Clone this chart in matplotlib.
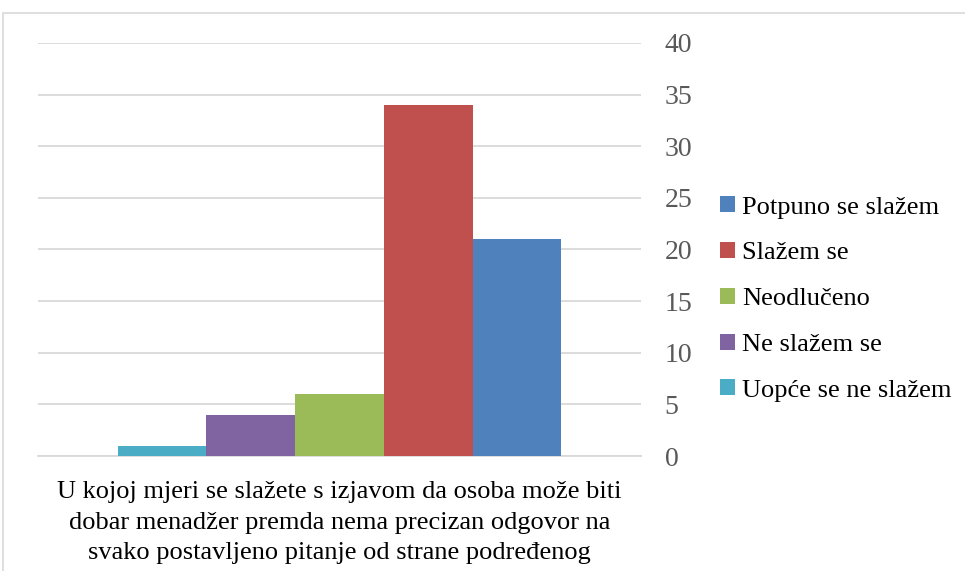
import matplotlib.pyplot as plt
from matplotlib.patches import Rectangle

plt.rcParams['font.family'] = ['Liberation Serif', 'DejaVu Serif']

category = 'U kojoj mjeri se slažete s izjavom da osoba može biti\ndobar menadžer premda nema precizan odgovor na\nsvako postavljeno pitanje od strane podređenog'
series = ['Uopće se ne slažem', 'Ne slažem se', 'Neodlučeno', 'Slažem se', 'Potpuno se slažem']
values = [1, 4, 6, 34, 21]
colors = ['#4bacc6', '#8064a2', '#9bbb59', '#c0504d', '#4f81bd']

fig = plt.figure(figsize=(9.65, 5.71), dpi=100)
fig.patches.append(Rectangle((3 / 965, -0.1), 1.2, 1 - 13 / 571 + 0.1, transform=fig.transFigure,
                             fill=False, edgecolor='#d9d9d9', linewidth=1.2))
ax = fig.add_axes([38 / 965, 1 - 456 / 571, 603 / 965, 413 / 571])

w = 0.1472
for i, (s, v, c) in enumerate(zip(series, values, colors)):
    ax.bar((i - 2) * w, v, width=w, color=c, label=s, zorder=3)

ax.set_xlim(-0.5, 0.5)
ax.set_ylim(0, 40)
ax.set_yticks(range(0, 41, 5))
ax.yaxis.tick_right()
ax.tick_params(axis='y', length=0, pad=17, labelsize=20, labelcolor='#595959')
ax.set_xticks([0])
ax.set_xticklabels([category], fontsize=19, color='black', linespacing=1.5)
ax.tick_params(axis='x', length=0, pad=18)
ax.grid(axis='y', color='#d9d9d9', linewidth=1.3, zorder=0)
for sp in ['top', 'left', 'right']:
    ax.spines[sp].set_visible(False)
ax.spines['bottom'].set_color('#d9d9d9')
ax.spines['bottom'].set_linewidth(1.3)

h, l = ax.get_legend_handles_labels()
fig.legend(h[::-1], l[::-1], loc='center left', bbox_to_anchor=(720 / 965, 1 - 299 / 571),
           bbox_transform=fig.transFigure, frameon=False, fontsize=19, borderpad=0, borderaxespad=0,
           handlelength=0.55, handleheight=0.55, handletextpad=0.3, labelspacing=0.89)

fig.savefig('out.png', dpi=100)
